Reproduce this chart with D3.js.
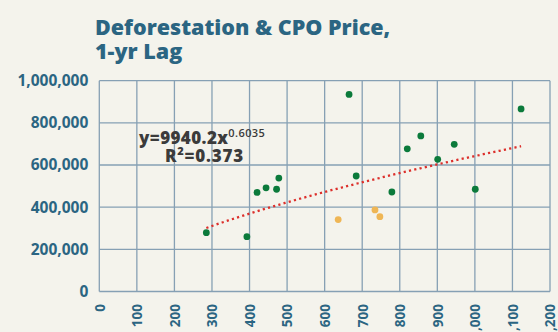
<!DOCTYPE html>
<html>
<head>
<meta charset="utf-8">
<script src="https://cdn.jsdelivr.net/npm/d3@7"></script>
<style>
  html, body { margin: 0; padding: 0; background: #f4f3ec; }
  svg { display: block; }
</style>
</head>
<body>
<svg id="chart" width="558" height="332"></svg>
<script>
// CPO price (previous year) vs. deforestation
const priceMain = [285, 393, 420, 444, 472, 478, 665, 684, 779, 820, 856, 901, 945, 1001, 1123];
const deforMain = [279000, 260000, 470000, 492000, 485000, 538000, 935000, 548000, 472000, 677000, 738000, 627000, 698000, 485000, 866000];
const priceAlt = [636, 734, 747];
const deforAlt = [341000, 387000, 355000];

// Power trend fit y = a * x^b
const fitA = 9940.2;
const fitB = 0.6035;
const fitR2 = 0.373;

const xTicks = [0, 100, 200, 300, 400, 500, 600, 700, 800, 900, 1000, 1100, 1200];
const yTicks = [0, 200000, 400000, 600000, 800000, 1000000];

const titleLines = ["Deforestation & CPO Price,", "1-yr Lag"];

const svg = d3.select("#chart");
const W = 558, H = 332;
const plot = { left: 99.3, right: 550, top: 80.7, bottom: 291.5 };

const x = d3.scaleLinear().domain([0, 1200]).range([plot.left, plot.right]);
const y = d3.scaleLinear().domain([0, 1000000]).range([plot.bottom, plot.top]);

const ink = "#2b6582";
const gridColor = "#86a0b4";
const fontStack = "'Open Sans', Lato, sans-serif";
const fmt = d3.format(",");

svg.append("rect").attr("width", W).attr("height", H).attr("fill", "#f4f3ec");

// Title
const title = svg.append("text")
  .attr("x", 95)
  .attr("y", 34.5)
  .attr("fill", ink)
  .style("font-family", fontStack)
  .style("font-weight", 800)
  .style("font-size", "21.5px");
titleLines.forEach((t, i) => {
  title.append("tspan").attr("x", 95).attr("dy", i === 0 ? 0 : 24.8).text(t);
});

// Grid
const grid = svg.append("g").attr("stroke", gridColor).attr("stroke-width", 1.3);
grid.selectAll("line.v").data(xTicks).join("line")
  .attr("class", "v")
  .attr("x1", d => x(d)).attr("x2", d => x(d))
  .attr("y1", y(1000000)).attr("y2", y(0));
grid.selectAll("line.h").data(yTicks).join("line")
  .attr("class", "h")
  .attr("x1", x(0)).attr("x2", x(1200))
  .attr("y1", d => y(d)).attr("y2", d => y(d));

// Y axis labels
const yAxis = svg.append("g")
  .attr("transform", `translate(${plot.left - 11},0)`)
  .call(d3.axisLeft(y).tickValues(yTicks).tickFormat(fmt).tickSize(0).tickPadding(0));
yAxis.select(".domain").remove();
yAxis.selectAll("text")
  .attr("fill", ink)
  .style("font-family", fontStack)
  .style("font-weight", 700)
  .style("font-size", "15.5px");

// X axis labels (rotated)
const xAxis = svg.append("g")
  .attr("transform", `translate(0,${y(0)})`)
  .call(d3.axisBottom(x).tickValues(xTicks).tickFormat(fmt).tickSize(0).tickPadding(0));
xAxis.select(".domain").remove();
xAxis.selectAll("text")
  .attr("fill", ink)
  .attr("transform", "translate(0,12.5) rotate(-90)")
  .attr("text-anchor", "end")
  .attr("x", 0)
  .attr("y", 0)
  .attr("dy", "0.36em")
  .style("font-family", fontStack)
  .style("font-weight", 700)
  .style("font-size", "13.5px");

// Trend line
const allPrice = priceMain.concat(priceAlt);
const xMin = d3.min(allPrice), xMax = d3.max(allPrice);
const trend = d3.range(0, 101).map(i => {
  const xv = xMin + (xMax - xMin) * i / 100;
  return [xv, fitA * Math.pow(xv, fitB)];
});
svg.append("path")
  .datum(trend)
  .attr("fill", "none")
  .attr("stroke", "#dc2f2b")
  .attr("stroke-width", 2.3)
  .attr("stroke-dasharray", "2.2,3.2")
  .attr("d", d3.line().x(d => x(d[0])).y(d => y(d[1])));

// Points
const mainPts = priceMain.map((p, i) => ({ p, v: deforMain[i] }));
const altPts = priceAlt.map((p, i) => ({ p, v: deforAlt[i] }));
svg.append("g").selectAll("circle").data(altPts).join("circle")
  .attr("cx", d => x(d.p)).attr("cy", d => y(d.v)).attr("r", 3.4)
  .attr("fill", "#efb655");
svg.append("g").selectAll("circle").data(mainPts).join("circle")
  .attr("cx", d => x(d.p)).attr("cy", d => y(d.v)).attr("r", 3.4)
  .attr("fill", "#0b7a3b");

// Equation label
const eq = svg.append("text")
  .attr("fill", "#3b3b3b")
  .style("font-family", fontStack)
  .style("font-weight", 800)
  .style("font-size", "17px")
  .style("letter-spacing", "0.4px");
eq.append("tspan").attr("x", 139).attr("y", 144).text(`y=${fitA}x`);
eq.append("tspan").attr("dy", -7).style("font-size", "11px").style("font-weight", 600).text(fitB);
const eq2 = svg.append("text")
  .attr("x", 165).attr("y", 161.5)
  .attr("fill", "#3b3b3b")
  .style("font-family", fontStack)
  .style("font-weight", 800)
  .style("font-size", "17px")
  .style("letter-spacing", "0.8px");
eq2.append("tspan").text("R");
eq2.append("tspan").attr("dy", -7).style("font-size", "11px").text("2");
eq2.append("tspan").attr("dy", 7).text(`=${fitR2}`);
</script>
</body>
</html>
